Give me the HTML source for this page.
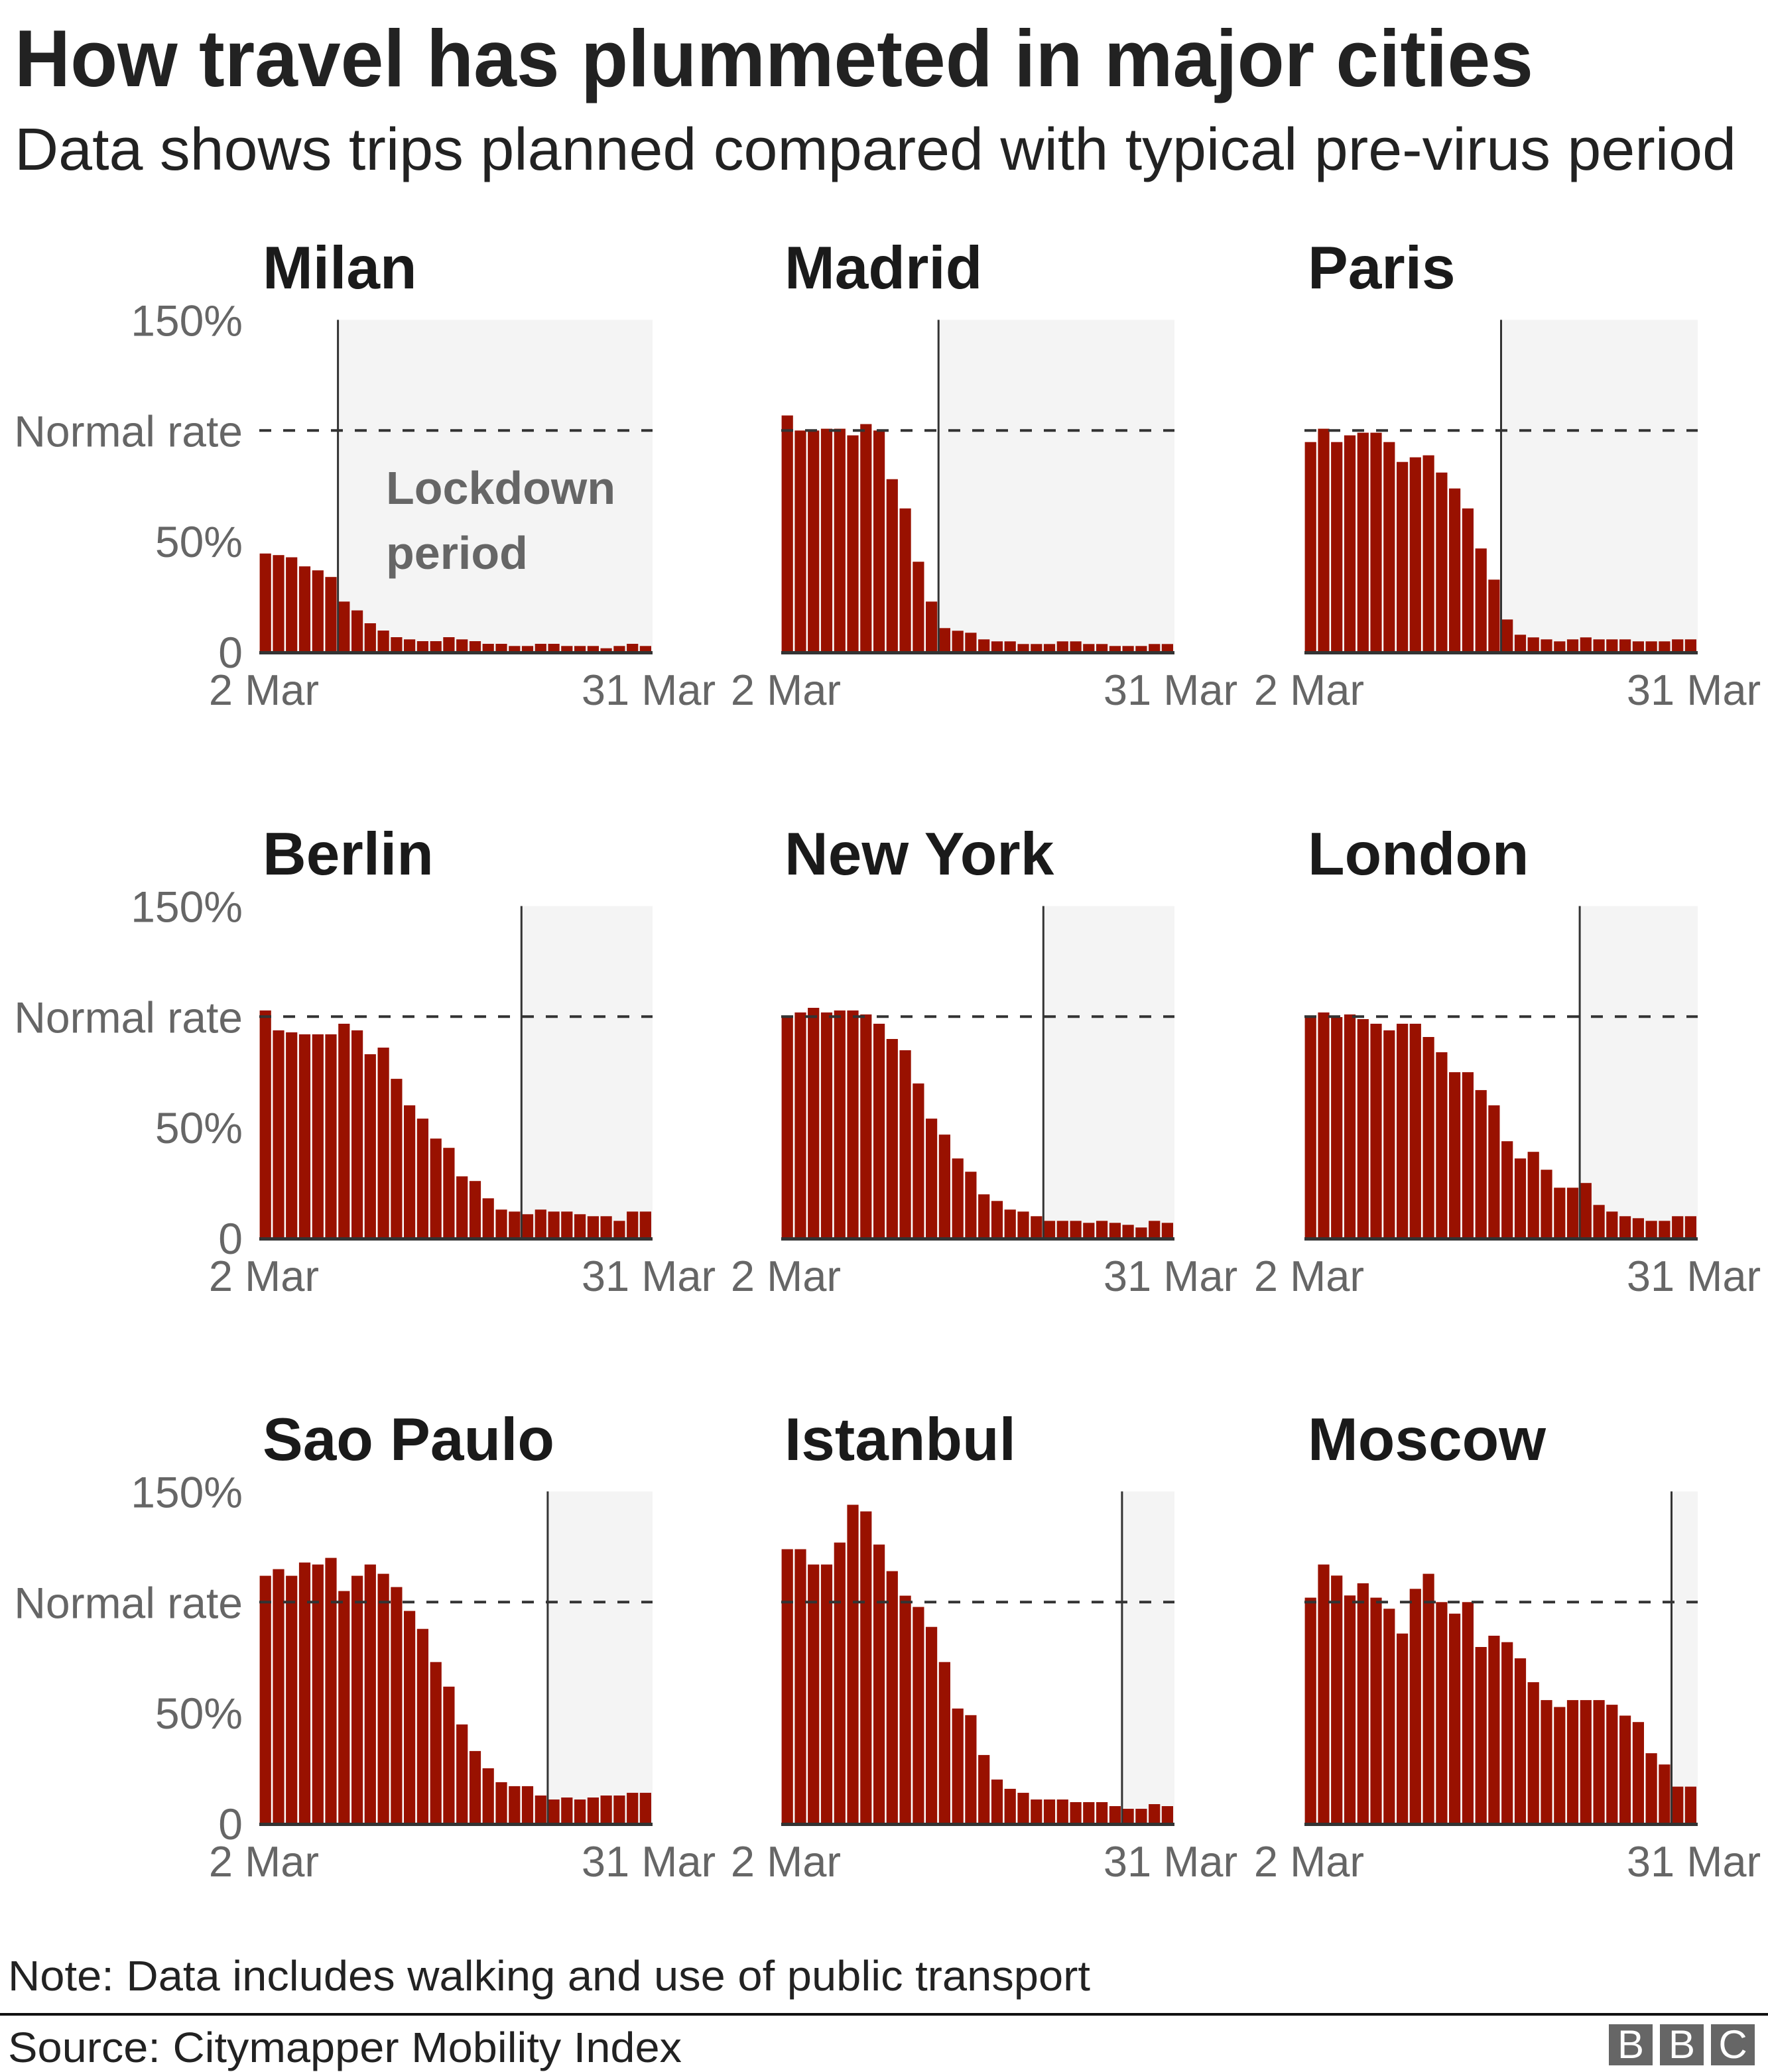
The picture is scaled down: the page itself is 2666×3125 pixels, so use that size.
<!DOCTYPE html>
<html><head><meta charset="utf-8"><style>
html,body{margin:0;padding:0;background:#fff}
svg{display:block}
text{font-family:"Liberation Sans",Arial,sans-serif}
</style></head><body>
<svg id="s" xmlns="http://www.w3.org/2000/svg" width="2666" height="3125" viewBox="0 0 2666 3125">
<rect width="2666" height="3125" fill="#fff"/>
<text x="22" y="130" font-size="122" font-weight="bold" fill="#222" textLength="2290" lengthAdjust="spacingAndGlyphs">How travel has plummeted in major cities</text>
<text x="22" y="256" font-size="90" fill="#222" textLength="2596" lengthAdjust="spacingAndGlyphs">Data shows trips planned compared with typical pre-virus period</text>
<g id="panels"></g>
<text x="12" y="3002" font-size="64" fill="#222" textLength="1632" lengthAdjust="spacingAndGlyphs">Note: Data includes walking and use of public transport</text>
<rect x="0" y="3036" width="2666" height="4" fill="#111"/>
<text x="12" y="3110" font-size="64" fill="#222" textLength="1016" lengthAdjust="spacingAndGlyphs">Source: Citymapper Mobility Index</text>
<rect x="2426" y="3053" width="66" height="62" fill="#666"/>
<rect x="2503" y="3053" width="66" height="62" fill="#666"/>
<rect x="2580" y="3053" width="66" height="62" fill="#666"/>
<text x="2459" y="3104" font-size="60" fill="#fff" text-anchor="middle">B</text>
<text x="2536" y="3104" font-size="60" fill="#fff" text-anchor="middle">B</text>
<text x="2613" y="3104" font-size="60" fill="#fff" text-anchor="middle">C</text>
</svg>
<script>
var D=[
["Milan",6,[44.4,43.7,42.7,38.6,36.8,33.8,22.7,18.7,12.9,9.6,6.6,5.6,4.8,4.8,6.6,5.6,4.8,3.6,3.6,2.6,2.6,3.6,3.6,2.6,2.6,2.6,1.6,2.6,3.6,2.6]],
["Madrid",12,[106.8,100,100,100.8,100.8,97.8,102.9,100,78,64.8,40.7,22.7,10.7,9.5,8.6,5.6,4.7,4.7,3.5,3.5,3.5,4.7,4.7,3.5,3.5,2.6,2.6,2.6,3.5,3.5]],
["Paris",15,[94.8,100.8,94.8,97.8,99,99,94.8,85.8,87.9,88.8,81,73.8,64.8,46.7,32.6,14.6,7.7,6.5,5.6,4.7,5.6,6.5,5.6,5.6,5.6,4.7,4.7,4.7,5.6,5.6]],
["Berlin",20,[102.8,93.8,92.9,92,92,92,96.8,93.8,83,86,71.9,59.9,53.9,44.9,40.7,27.8,25.7,17.9,12.8,11.9,10.7,12.8,11.9,11.9,10.7,9.8,9.8,7.7,11.9,11.9]],
["New York",20,[100.5,101.9,104,101.9,102.8,102.8,101,96.8,89.9,84.8,69.8,53.9,46.7,35.9,29.9,19.7,16.7,12.8,11.9,9.8,7.7,7.7,7.7,6.8,7.7,6.8,5.9,4.7,7.7,6.8]],
["London",21,[100,101.9,99.8,101,98.9,96.8,93.8,96.8,96.8,90.8,83.9,74.9,74.9,66.8,59.9,43.7,35.9,38.9,30.8,22.7,22.7,24.8,14.9,11.9,9.8,8.9,7.7,7.7,9.8,9.8]],
["Sao Paulo",22,[111.9,114.9,111.9,117.9,117,120,105,111.9,117,112.8,106.8,96,87.9,72.9,61.8,44.7,32.7,24.9,18.6,16.8,16.8,12.6,10.8,11.7,10.8,11.7,12.6,12.6,13.8,13.8]],
["Istanbul",26,[123.9,123.9,117,117,126.9,144,141,126,114,102.9,97.8,88.8,72.9,51.9,48.9,30.9,19.8,15.6,13.8,10.8,10.8,10.8,9.6,9.6,9.6,7.8,6.6,6.6,8.7,7.8]],
["Moscow",28,[102,117,112,103,108.5,102,97,85.8,106,112.8,100,94.8,100,79.7,84.8,81.9,74.6,63.8,55.7,52.6,55.7,55.7,55.7,53.6,48.7,45.8,31.7,26.6,16.6,16.6]]
];
var colX=[391,1178,1967], rowB=[983,1867,2750], W=593, K=3.337, P=W/30;
var h='';
D.forEach(function(d,i){
 var c=i%3,r=Math.floor(i/3),x0=colX[c],b=rowB[r],top=b-150*K;
 var lx=x0+d[1]*P;
 h+='<rect x="'+lx.toFixed(1)+'" y="'+top.toFixed(1)+'" width="'+(x0+W-lx).toFixed(1)+'" height="'+(b-top).toFixed(1)+'" fill="#f4f4f4"/>';
 d[2].forEach(function(v,j){var hh=v*K;h+='<rect x="'+(x0+j*P+0.6).toFixed(1)+'" y="'+(b-hh).toFixed(1)+'" width="'+(P-2.6).toFixed(1)+'" height="'+hh.toFixed(1)+'" fill="#991100"/>';});
 var ny=b-100*K;
 h+='<line x1="'+x0+'" x2="'+(x0+W)+'" y1="'+ny.toFixed(1)+'" y2="'+ny.toFixed(1)+'" stroke="#333" stroke-width="4" stroke-dasharray="18 18"/>';
 h+='<line x1="'+lx.toFixed(1)+'" x2="'+lx.toFixed(1)+'" y1="'+top.toFixed(1)+'" y2="'+b+'" stroke="#333" stroke-width="3"/>';
 h+='<rect x="'+x0+'" y="'+(b-1)+'" width="'+W+'" height="5" fill="#333"/>';
 h+='<text x="'+(x0+5)+'" y="'+(b-548)+'" font-size="91" font-weight="bold" fill="#1a1a1a">'+d[0]+'</text>';
 if(c==0){
  [[150,'150%'],[100,'Normal rate'],[50,'50%'],[0,'0']].forEach(function(t){
   h+='<text x="366" y="'+(b-t[0]*K+24).toFixed(1)+'" font-size="66" fill="#666" text-anchor="end">'+t[1]+'</text>';});
 }
 h+='<text x="'+(x0+7)+'" y="'+(b+80)+'" font-size="65" fill="#666" text-anchor="middle">2 Mar</text>';
 h+='<text x="'+(x0+W-6)+'" y="'+(b+80)+'" font-size="65" fill="#666" text-anchor="middle">31 Mar</text>';
});
h+='<text x="582" y="760" font-size="70" font-weight="bold" fill="#666">Lockdown</text>';
h+='<text x="582" y="858" font-size="70" font-weight="bold" fill="#666">period</text>';
document.getElementById('panels').innerHTML=h;
</script>
</body></html>
